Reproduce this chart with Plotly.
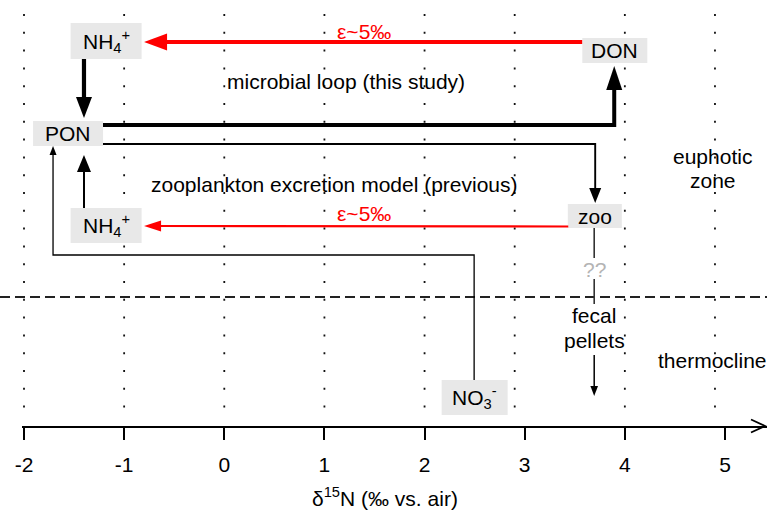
import math
import plotly.graph_objects as go

# ---------------- data ----------------
# δ15N axis
tick_values = [-2, -1, 0, 1, 2, 3, 4, 5]
tick_labels = ["-2", "-1", "0", "1", "2", "3", "4", "5"]
grid_d15n = [-2, -1, 0, 1, 2, 2.9, 4, 4.9]          # dotted guide lines as drawn

# nitrogen pools: δ15N (‰) and vertical level in the diagram (0 = top)
pool_labels = ["NH<sub>4</sub><sup>+</sup>", "DON", "PON",
               "NH<sub>4</sub><sup>+</sup>", "zoo", "NO<sub>3</sub><sup>-</sup>"]
pool_d15n = [-1.18, 3.90, -1.56, -1.18, 3.70, 2.50]
pool_level = [41, 50.5, 133.5, 225.5, 216, 397.5]

# flux pathways as (δ15N, level) waypoints
flux_red_top = [(3.574, 42), (-0.801, 42)]
flux_nh4_pon = [(-1.401, 59), (-1.401, 118)]
flux_pon_don = [(-1.211, 125), (3.894, 125), (3.894, 66)]
flux_pon_zoo = [(-1.211, 144), (3.704, 144), (3.704, 203)]
flux_red_bot = [(3.435, 226.5), (-0.801, 226)]
flux_nh4b_pon = [(-1.401, 208), (-1.401, 155)]
flux_no3_pon = [(2.495, 380), (2.495, 255), (-1.710, 255), (-1.710, 146)]
flux_zoo_down1 = [(3.694, 228), (3.694, 258)]
flux_zoo_down2 = [(3.694, 279), (3.694, 304)]
flux_fecal = [(3.694, 355), (3.694, 396)]
thermocline_level = 297

texts = [
    ("ε~5‰", 1.40, 31, "red"),
    ("ε~5‰", 1.40, 213, "red"),
    ("microbial loop (this study)", 1.22, 81, "black"),
    ("zooplankton excretion model (previous)", 1.10, 184, "black"),
    ("euphotic", 4.88, 156, "black"),
    ("zone", 4.88, 180, "black"),
    ("??", 3.694, 269, "#b4b4b4"),
    ("fecal", 3.694, 315, "black"),
    ("pellets", 3.694, 340, "black"),
    ("thermocline", 4.88, 360, "black"),
]
x_title = "δ<sup>15</sup>N (‰ vs. air)"

# ---------------- layout geometry ----------------
W, H = 767, 510
LEFT, BOTTOM_PX = 22, 426
PX = 100.14                       # pixels per ‰
X0 = -2 - 2 / PX
X1 = X0 + (W - LEFT) / PX
FONT = "Liberation Sans, Arial, Helvetica, sans-serif"
BOX_FILL = "#e8e8e8"
box_half_w = [35.5, 32.5, 35, 35.5, 27, 33]       # px
box_half_h = [18, 12.5, 12.5, 17.5, 12, 17.5]     # px

fig = go.Figure()
fig.add_trace(go.Scatter(x=[X0, X1], y=[0, 0], mode="markers",
                         marker=dict(opacity=0), hoverinfo="skip", showlegend=False))

shapes = []


def path_of(pts):
    return "M " + " L ".join(f"{x:.5f},{y:.3f}" for x, y in pts)


def arrow(pts, color, width, head_len=0, head_hw=0, head=True):
    pts = list(pts)
    if head:
        (xa, ya), (xb, yb) = pts[-2], pts[-1]
        ux, uy = (xb - xa) * PX, (yb - ya)
        n = math.hypot(ux, uy)
        ux, uy = ux / n, uy / n
        bx, by = xb - ux * head_len / PX, yb - uy * head_len
        le = (xb - ux * (head_len - 2) / PX, yb - uy * (head_len - 2))
        nx, ny = -uy, ux
        c1 = (bx + nx * head_hw / PX, by + ny * head_hw)
        c2 = (bx - nx * head_hw / PX, by - ny * head_hw)
        shapes.append(dict(type="path", xref="x", yref="y", path=path_of(pts[:-1] + [le]),
                           line=dict(color=color, width=width)))
        shapes.append(dict(type="path", xref="x", yref="y",
                           path=path_of([(xb, yb), c1, c2]) + " Z",
                           fillcolor=color, line=dict(width=0)))
    else:
        shapes.append(dict(type="path", xref="x", yref="y", path=path_of(pts),
                           line=dict(color=color, width=width)))


# dotted guide lines
for gx in grid_d15n:
    shapes.append(dict(type="line", xref="x", yref="y", x0=gx, x1=gx, y0=14, y1=423,
                       line=dict(color="#111111", width=1.8, dash="2px,15.8px")))

# thermocline
shapes.append(dict(type="line", xref="paper", yref="y", x0=-LEFT / (W - LEFT), x1=1,
                   y0=thermocline_level, y1=thermocline_level,
                   line=dict(color="#222222", width=1.8, dash="10px,5px")))

# boxes
for lx, ly, hw, hh in zip(pool_d15n, pool_level, box_half_w, box_half_h):
    shapes.append(dict(type="rect", xref="x", yref="y", x0=lx - hw / PX, x1=lx + hw / PX,
                       y0=ly - hh, y1=ly + hh, fillcolor=BOX_FILL, line=dict(width=0)))

# fluxes
arrow(flux_red_top, "#ff0000", 4, 23, 8.5)
arrow(flux_nh4_pon, "black", 4.2, 21, 8)
arrow(flux_pon_don, "black", 4, 24, 8)
arrow(flux_pon_zoo, "black", 1.9, 15, 6)
arrow(flux_red_bot, "#ff0000", 2.2, 17, 5.5)
arrow(flux_nh4b_pon, "black", 2, 17, 7)
arrow(flux_no3_pon, "black", 1.3, 9, 3.5)
arrow(flux_zoo_down1, "#333333", 1.6, head=False)
arrow(flux_zoo_down2, "#333333", 1.6, head=False)
arrow(flux_fecal, "black", 1.5, 10, 3.8)

# axis arrow tip (open chevron)
tip_x = X1 - 2 / PX
shapes.append(dict(type="path", xref="x", yref="paper",
                   path=f"M {tip_x - 14 / PX:.5f},{6.5 / BOTTOM_PX:.5f} L {tip_x:.5f},0 "
                        f"L {tip_x - 14 / PX:.5f},{-6.5 / BOTTOM_PX:.5f}",
                   line=dict(color="black", width=1.8)))

annotations = []
for lab, lx, ly in zip(pool_labels, pool_d15n, pool_level):
    annotations.append(dict(x=lx, y=ly, xref="x", yref="y", text=lab, showarrow=False,
                            xanchor="center", yanchor="middle",
                            font=dict(family=FONT, size=21, color="black")))
for t, tx, ty, col in texts:
    annotations.append(dict(x=tx, y=ty, xref="x", yref="y", text=t, showarrow=False,
                            xanchor="center", yanchor="middle",
                            font=dict(family=FONT, size=21, color=col)))
annotations.append(dict(x=1.60, y=0, xref="x", yref="paper", yshift=-71, text=x_title,
                        showarrow=False, xanchor="center", yanchor="middle",
                        font=dict(family=FONT, size=21, color="black")))

fig.update_layout(
    width=W, height=H,
    margin=dict(l=LEFT, r=0, t=0, b=H - BOTTOM_PX, pad=0),
    paper_bgcolor="white", plot_bgcolor="white",
    showlegend=False,
    shapes=shapes, annotations=annotations,
    xaxis=dict(range=[X0, X1], tickvals=tick_values, ticktext=tick_labels,
               showgrid=False, zeroline=False, showline=True, linecolor="black",
               linewidth=1.8, ticks="outside", ticklen=12, tickwidth=1.6, tickcolor="black",
               ticklabelstandoff=7,
               tickfont=dict(family=FONT, size=21, color="black"),
               fixedrange=True),
    yaxis=dict(range=[BOTTOM_PX, 0], visible=False, fixedrange=True),
)

fig.write_html("out.html")
